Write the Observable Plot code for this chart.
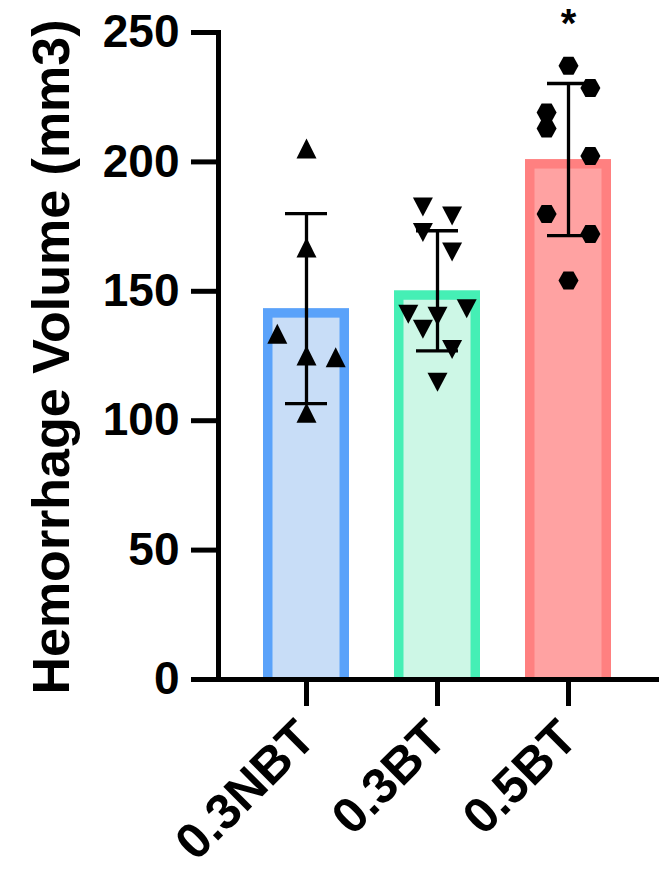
<!DOCTYPE html>
<html><head><meta charset="utf-8">
<script src="https://cdn.jsdelivr.net/npm/d3@7"></script>
<script src="https://cdn.jsdelivr.net/npm/@observablehq/plot@0.6"></script>
<style>html,body{margin:0;padding:0;background:#fff}#chart svg{display:block}</style>
</head><body><div id="chart"></div>
<script>
// ---- data ----
const groups = ["0.3NBT", "0.3BT", "0.5BT"];
const means = [143.3, 150.2, 200.9];
const sds = [36.7, 23.2, 29.4];
const values_03NBT = [205.2, 166.9, 133.6, 125.2, 124.5, 103.1];
const slots_03NBT  = [0, 0, -4, 0, 4, 0];
const values_03BT = [182.6, 179.1, 172.7, 165.2, 141.1, 140.4, 143.3, 135.3, 127.5, 114.9];
const slots_03BT  = [-2, 2, -2, 2, -4, 0, 4, -2, 2, 0];
const values_05BT = [237.2, 228.6, 219.1, 212.9, 202.3, 179.9, 172.1, 154.2];
const slots_05BT  = [0, 3, -3, -3, 3, -3, 3, 0];
const yTicks = [0, 50, 100, 150, 200, 250];
const yTitle = "Hemorrhage Volume (mm3)";
const sigGroups = ["0.5BT"];
const sigLabels = ["*"];

// ---- styling ----
const borderColors = ["#5AA2FA", "#45EFB5", "#FF8080"];
const fillColors = ["#C8DDF7", "#CDF7E6", "#FFA2A2"];
const slotPx = 7.3;
const font = "'Liberation Sans', Arial, Helvetica, sans-serif";

const symUp = {draw(ctx, size) { const r = Math.sqrt(size / Math.PI); ctx.moveTo(0, -r); ctx.lineTo(r, r); ctx.lineTo(-r, r); ctx.closePath(); }};
const symDown = {draw(ctx, size) { const r = Math.sqrt(size / Math.PI), h = 0.95 * r; ctx.moveTo(0, h); ctx.lineTo(r, -h); ctx.lineTo(-r, -h); ctx.closePath(); }};
const symHex = {draw(ctx, size) { const r = Math.sqrt(size / Math.PI), h = 0.9 * r; ctx.moveTo(-r, 0); ctx.lineTo(-r / 2, -h); ctx.lineTo(r / 2, -h); ctx.lineTo(r, 0); ctx.lineTo(r / 2, h); ctx.lineTo(-r / 2, h); ctx.closePath(); }};
const symbols = [symUp, symDown, symHex];

const bars = groups.map((g, i) => ({group: g, mean: means[i], sd: sds[i]}));
const pointSets = [[values_03NBT, slots_03NBT], [values_03BT, slots_03BT], [values_05BT, slots_05BT]];
const points = [];
pointSets.forEach(([vals, slots], gi) => vals.forEach((v, j) => points.push({group: groups[gi], gi, value: v, slot: slots[j]})));
const sig = sigGroups.map((g, i) => ({group: g, label: sigLabels[i], top: means[groups.indexOf(g)] + sds[groups.indexOf(g)]}));

const marks = [];
groups.forEach((g, i) => {
  marks.push(Plot.barY([bars[i]], {x: "group", y: "mean", fill: borderColors[i]}));
  marks.push(Plot.barY([bars[i]], {x: "group", y: "mean", fill: fillColors[i], insetLeft: 9.5, insetRight: 9.5, insetTop: 9.5}));
});
marks.push(Plot.ruleX(bars, {x: "group", y1: d => d.mean - d.sd, y2: d => d.mean + d.sd, stroke: "black", strokeWidth: 3.3}));
marks.push(Plot.tickY(bars, {x: "group", y: d => d.mean + d.sd, stroke: "black", strokeWidth: 3.3, insetLeft: 22, insetRight: 22}));
marks.push(Plot.tickY(bars, {x: "group", y: d => d.mean - d.sd, stroke: "black", strokeWidth: 3.3, insetLeft: 22, insetRight: 22}));
groups.forEach((g, gi) => {
  const pts = points.filter(d => d.gi === gi);
  [...new Set(pts.map(d => d.slot))].forEach(s => {
    marks.push(Plot.dot(pts.filter(d => d.slot === s), {x: "group", y: "value", symbol: symbols[gi], r: 10, fill: "black", stroke: "none", dx: s * slotPx}));
  });
});
marks.push(Plot.text(sig, {x: "group", y: "top", text: "label", fontSize: 40, fontWeight: "bold", dy: -59}));
marks.push(Plot.text([yTitle], {frameAnchor: "left", textAnchor: "middle", lineAnchor: "middle", rotate: -90, text: d => d, dx: -166, dy: 1, fontSize: 52, fontWeight: "bold", fill: "black"}));
marks.push(Plot.axisY({ticks: yTicks, tickSize: 27, tickPadding: 12, strokeWidth: 5, fontSize: 46, fontWeight: "bold", label: null, tickFormat: d => String(d)}));
marks.push(Plot.axisX({tickSize: 27, tickPadding: 23, strokeWidth: 5, tickRotate: -45, fontSize: 50, fontWeight: "bold", label: null}));
marks.push(Plot.ruleY([0], {stroke: "black", strokeWidth: 5}));
marks.push(Plot.frame({anchor: "left", stroke: "black", strokeWidth: 5}));

const chart = Plot.plot({
  width: 659, height: 869,
  marginLeft: 218, marginRight: 0, marginTop: 32, marginBottom: 190,
  style: {fontFamily: font, fontWeight: "bold", color: "black", background: "white", overflow: "visible"},
  x: {domain: groups, range: [218, 657], padding: 0.34, axis: null},
  y: {domain: [0, 250], axis: null},
  marks
});
document.getElementById("chart").appendChild(chart);
</script></body></html>
